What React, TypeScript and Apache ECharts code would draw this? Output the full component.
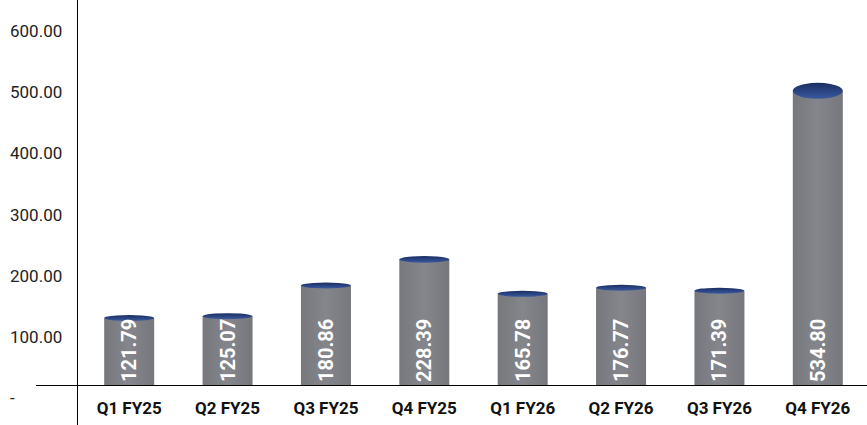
import React, { useEffect, useRef } from "react";
import * as echarts from "echarts";

const categories = ["Q1 FY25", "Q2 FY25", "Q3 FY25", "Q4 FY25", "Q1 FY26", "Q2 FY26", "Q3 FY26", "Q4 FY26"];
const values = [121.79, 125.07, 180.86, 228.39, 165.78, 176.77, 171.39, 534.8];
const axisTicks = { min: 0, max: 600, interval: 100 };

export default function App() {
  const ref = useRef<HTMLDivElement>(null);
  useEffect(() => {
    document.body.style.margin = "0";
    const chart = echarts.init(ref.current!, null, { renderer: "svg" });
    const font = "Roboto, 'Noto Sans', sans-serif";
    chart.setOption({
      animation: false,
      backgroundColor: "#ffffff",
      textStyle: { fontFamily: font },
      grid: [
        { left: 77, right: 0, top: 31, bottom: 27 },
        { left: 80, width: 800, top: 0, bottom: 40 },
      ],
      xAxis: [
        { gridIndex: 0, type: "value", show: false, min: 0, max: 1 },
        {
          gridIndex: 1,
          type: "category",
          data: categories,
          axisLine: { show: false },
          axisTick: { show: false },
          axisLabel: { color: "#111111", fontWeight: "bold", fontSize: 17, margin: 14, fontFamily: font },
        },
      ],
      yAxis: [
        {
          gridIndex: 0,
          type: "value",
          min: axisTicks.min,
          max: axisTicks.max,
          interval: axisTicks.interval,
          axisLine: { show: false },
          axisTick: { show: false },
          splitLine: { show: false },
          axisLabel: {
            align: "left",
            margin: 67,
            color: "#222222",
            fontSize: 17,
            fontFamily: font,
            formatter: (v: number) => (v === 0 ? "-" : v.toFixed(2)),
          },
        },
        { gridIndex: 1, type: "value", min: 0, max: 700, show: false },
      ],
      series: [
        {
          type: "bar",
          xAxisIndex: 1,
          yAxisIndex: 1,
          data: values,
          barWidth: 50,
          barGap: "-100%",
          z: 2,
          itemStyle: {
            color: new echarts.graphic.LinearGradient(0, 0, 1, 0, [
              { offset: 0, color: "#77787d" },
              { offset: 0.5, color: "#85868b" },
              { offset: 1, color: "#76777c" },
            ]),
          },
        },
        {
          type: "pictorialBar",
          xAxisIndex: 1,
          yAxisIndex: 1,
          data: values,
          symbol: "circle",
          symbolPosition: "end",
          symbolOffset: [0, "-50%"],
          symbolSize: (v: number) => [50, Math.max(6, v * 0.03)],
          z: 3,
          itemStyle: {
            color: new echarts.graphic.LinearGradient(0, 0, 0, 1, [
              { offset: 0, color: "#1b2d62" },
              { offset: 1, color: "#3a5a9f" },
            ]),
          },
        },
        {
          type: "bar",
          xAxisIndex: 1,
          yAxisIndex: 1,
          data: values,
          barWidth: 50,
          barGap: "-100%",
          z: 4,
          silent: true,
          itemStyle: { color: "rgba(0,0,0,0)" },
          label: {
            show: true,
            position: "insideBottom",
            rotate: 90,
            align: "left",
            verticalAlign: "middle",
            distance: 3,
            color: "#ffffff",
            fontWeight: "bold",
            fontSize: 20,
            fontFamily: font,
            formatter: (p: any) => Number(p.value).toFixed(2),
          },
        },
      ],
      graphic: [
        { type: "line", shape: { x1: 77.5, y1: 0, x2: 77.5, y2: 425 }, style: { stroke: "#000000", lineWidth: 1 }, z: 10 },
        { type: "line", shape: { x1: 36, y1: 385.5, x2: 867, y2: 385.5 }, style: { stroke: "#000000", lineWidth: 1 }, z: 10 },
      ],
    });
    return () => chart.dispose();
  }, []);
  return <div ref={ref} style={{ width: 867, height: 425 }} />;
}
